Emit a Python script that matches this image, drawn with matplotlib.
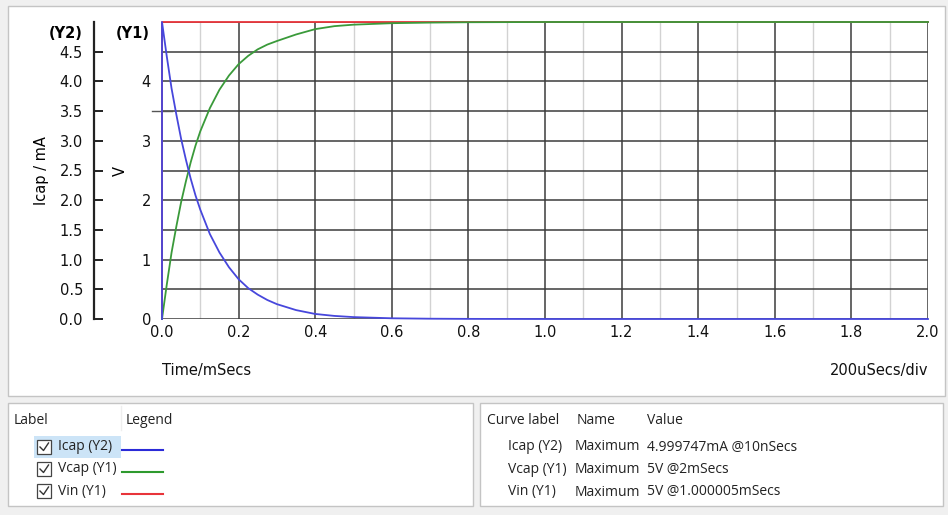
import numpy as np
import matplotlib.pyplot as plt
from matplotlib.patches import Rectangle

# time axis (mSecs) and curves
t_ms = [0.0, 0.0125, 0.025, 0.0375, 0.05, 0.0625, 0.075, 0.0875, 0.1, 0.125, 0.15,
        0.175, 0.2, 0.225, 0.25, 0.275, 0.3, 0.35, 0.4, 0.45, 0.5, 0.6, 0.7, 0.8,
        1.0, 1.2, 1.4, 1.6, 1.8, 2.0]
icap_ma = [5.0, 4.42, 3.88, 3.44, 3.03, 2.68, 2.36, 2.08, 1.84, 1.43, 1.12,
           0.87, 0.67, 0.52, 0.41, 0.32, 0.25, 0.15, 0.085, 0.052, 0.032, 0.012, 0.005, 0.002,
           0.0, 0.0, 0.0, 0.0, 0.0, 0.0]
vcap_v = [0.0, 0.58, 1.12, 1.56, 1.97, 2.32, 2.64, 2.92, 3.16, 3.55, 3.86,
          4.10, 4.29, 4.43, 4.54, 4.62, 4.68, 4.79, 4.88, 4.93, 4.955, 4.98, 4.99, 4.996,
          5.0, 5.0, 5.0, 5.0, 5.0, 5.0]
vin_t = [0.0, 0.0, 2.0]
vin_v = [0.0, 5.0, 5.0]
cursor_level = 3.5

y2_ticks = [0.0, 0.5, 1.0, 1.5, 2.0, 2.5, 3.0, 3.5, 4.0, 4.5]
y1_ticks = [0, 1, 2, 3, 4]
x_ticks = [0.0, 0.2, 0.4, 0.6, 0.8, 1.0, 1.2, 1.4, 1.6, 1.8, 2.0]

legend_rows = [('Icap (Y2)', '#2b2bd8'), ('Vcap (Y1)', '#2e9a2e'), ('Vin (Y1)', '#e8343a')]
value_rows = [('Icap (Y2)', 'Maximum', '4.999747mA @10nSecs'),
              ('Vcap (Y1)', 'Maximum', '5V @2mSecs'),
              ('Vin (Y1)', 'Maximum', '5V @1.000005mSecs')]

W, H = 948, 515
fig = plt.figure(figsize=(W / 100, H / 100), dpi=100)
fig.patch.set_facecolor('#f0f0f0')

# background panels drawn in pixel coords
bg = fig.add_axes([0, 0, 1, 1], zorder=-1)
bg.set_xlim(0, W)
bg.set_ylim(H, 0)
bg.axis('off')
for x0, y0, x1, y1 in [(8, 6, 945, 396), (8, 403, 473, 506), (480, 403, 943, 506)]:
    bg.add_patch(Rectangle((x0, y0), x1 - x0, y1 - y0, facecolor='white',
                           edgecolor='#c4c4c4', lw=1))

uif = 'Open Sans'
fs = 10
# legend panel
bg.text(14, 420, 'Label', fontsize=fs, family=uif, va='center', color='#222222')
bg.text(126, 420, 'Legend', fontsize=fs, family=uif, va='center', color='#222222')
bg.plot([121, 121], [406, 430], color='#eeeeee', lw=1)
bg.add_patch(Rectangle((34, 436), 87, 22, facecolor='#cce4f7', edgecolor='none'))
for i, (name, col) in enumerate(legend_rows):
    yy = 447 + i * 22
    bg.add_patch(Rectangle((37, yy - 7), 14, 14, facecolor='white', edgecolor='#444444', lw=0.9))
    bg.plot([40, 43.5, 48.5], [yy, yy + 3.5, yy - 4], color='#333333', lw=1.0)
    bg.text(58, yy, name, fontsize=fs, family=uif, va='center', color='#222222')
    bg.plot([122, 163], [yy + 3, yy + 3], color=col, lw=1.5)

# values panel
for x, s in [(487, 'Curve label'), (577, 'Name'), (647, 'Value')]:
    bg.text(x, 420, s, fontsize=fs, family=uif, va='center', color='#222222')
for i, (name, kind, val) in enumerate(value_rows):
    yy = 447 + i * 22.5
    bg.text(508, yy, name, fontsize=fs, family=uif, va='center', color='#222222')
    bg.text(575, yy, kind, fontsize=fs, family=uif, va='center', color='#222222')
    bg.text(647, yy, val, fontsize=fs, family=uif, va='center', color='#222222')

# main plot area
L, T, R, B = 162, 22, 928, 319
ax = fig.add_axes([L / W, 1 - B / H, (R - L) / W, (B - T) / H])
ax.set_xlim(0, 2)
ax.set_ylim(0, 5)
for s in ax.spines.values():
    s.set_visible(False)
for x in np.arange(0.1, 2.0, 0.2):
    ax.axvline(x, color='#d2d2d2', lw=1, zorder=1)
for x in x_ticks:
    ax.axvline(x, color='#3c3c3c', lw=1.1, zorder=2)
for y in np.arange(0, 5.01, 0.5):
    ax.axhline(y, color='#3c3c3c', lw=1.1, zorder=2)

ax.plot(vin_t, vin_v, color='#e8343a', lw=1.3, zorder=3, clip_on=False)
ax.plot(t_ms, vcap_v, color='#3a9a3a', lw=1.3, zorder=4, clip_on=False)
ax.plot([0.0] + t_ms, [0.0] + icap_ma, color='#4747dc', lw=1.3, zorder=5, clip_on=False)
ax.plot([-0.026, 0.026], [cursor_level, cursor_level], color='#555555', lw=1, clip_on=False)

ax.set_xticks(x_ticks)
ax.set_xticklabels(['%.1f' % v for v in x_ticks])
ax.set_yticks(y1_ticks)
ax.tick_params(axis='both', length=0, labelsize=10.5, colors='#111111')
ax.tick_params(axis='x', pad=4)
ax.tick_params(axis='y', pad=8)
ax.set_ylabel('V', fontsize=10.5)
ax.yaxis.set_label_coords((128 - L) / (R - L), 0.5)

# Y2 axis further left
ax2 = ax.twinx()
ax2.set_ylim(0, 5)
for k in ['right', 'top', 'bottom']:
    ax2.spines[k].set_visible(False)
ax2.spines['left'].set_visible(True)
ax2.spines['left'].set_position(('axes', (94 - L) / (R - L)))
ax2.spines['left'].set_linewidth(1.6)
ax2.spines['left'].set_color('#222222')
ax2.yaxis.set_ticks_position('left')
ax2.yaxis.set_label_position('left')
ax2.set_yticks(y2_ticks)
ax2.set_yticklabels(['%.1f' % v for v in y2_ticks])
ax2.tick_params(axis='y', direction='in', length=6.5, width=1.3, pad=8,
                labelsize=10.5, colors='#111111')
ax2.set_ylabel('Icap / mA', fontsize=10.5)
ax2.yaxis.set_label_coords((49 - L) / (R - L), 0.5)

bg.text(66, 33, '(Y2)', fontsize=10.5, weight='bold', ha='center', va='center')
bg.text(133, 33, '(Y1)', fontsize=10.5, weight='bold', ha='center', va='center')
bg.text(162, 370, 'Time/mSecs', fontsize=10.5, va='center', color='#111111')
bg.text(928, 370, '200uSecs/div', fontsize=10.5, ha='right', va='center', color='#111111')

fig.savefig('out.png', dpi=100, facecolor=fig.get_facecolor())
